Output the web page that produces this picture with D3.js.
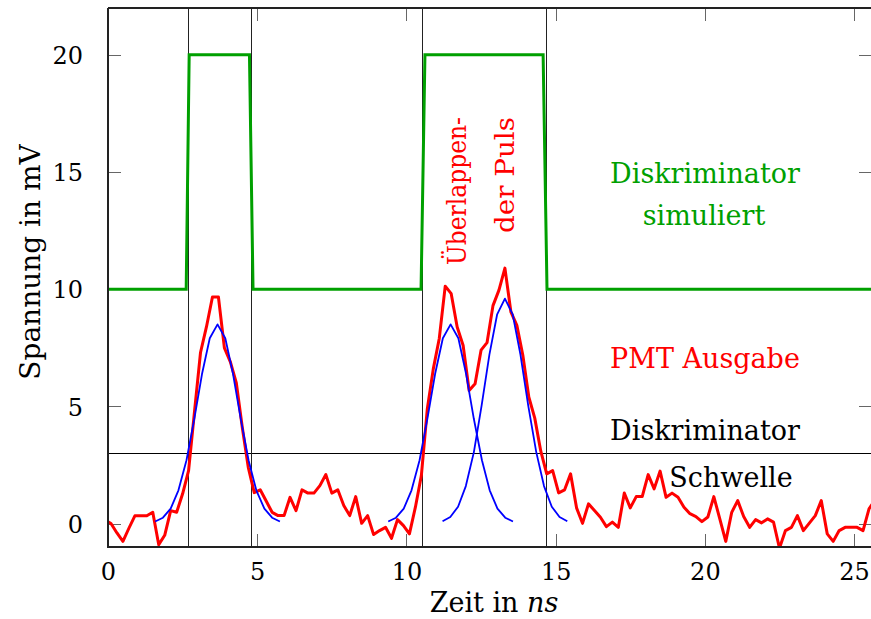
<!DOCTYPE html>
<html>
<head>
<meta charset="utf-8">
<script src="https://cdn.jsdelivr.net/npm/d3@7"></script>
<style>
  html, body { margin: 0; padding: 0; background: #fff; }
  svg { display: block; }
  text { font-family: "DejaVu Serif", serif; }
</style>
</head>
<body>
<svg id="chart" width="871" height="619"></svg>
<script>
// PMT output sampled every 0.2 ns (mV)
const pmtTime = [-0.1, 0.1, 0.3, 0.5, 0.7, 0.9, 1.1, 1.3, 1.5, 1.7, 1.9, 2.1, 2.3, 2.5, 2.7, 2.9, 3.1, 3.3, 3.5, 3.7,
  3.9, 4.1, 4.3, 4.5, 4.7, 4.9, 5.1, 5.3, 5.5, 5.7, 5.9, 6.1, 6.3, 6.5, 6.7, 6.9, 7.1, 7.3, 7.5, 7.7,
  7.9, 8.1, 8.3, 8.5, 8.7, 8.9, 9.1, 9.3, 9.5, 9.7, 9.9, 10.1, 10.3, 10.5, 10.7, 10.9, 11.1, 11.3, 11.5, 11.7,
  11.9, 12.1, 12.3, 12.5, 12.7, 12.9, 13.1, 13.3, 13.5, 13.7, 13.9, 14.1, 14.3, 14.5, 14.7, 14.9, 15.1, 15.3, 15.5, 15.7,
  15.9, 16.1, 16.3, 16.5, 16.7, 16.9, 17.1, 17.3, 17.5, 17.7, 17.9, 18.1, 18.3, 18.5, 18.7, 18.9, 19.1, 19.3, 19.5, 19.7,
  19.9, 20.1, 20.3, 20.5, 20.7, 20.9, 21.1, 21.3, 21.5, 21.7, 21.9, 22.1, 22.3, 22.5, 22.7, 22.9, 23.1, 23.3, 23.5, 23.7,
  23.9, 24.1, 24.3, 24.5, 24.7, 24.9, 25.1, 25.3, 25.5, 25.7];
const pmtVolt = [0.15, 0.0, -0.4, -0.76, -0.2, 0.33, 0.33, 0.33, 0.48, -0.9, -0.5, 0.55, 0.48, 1.27, 2.26, 4.8, 7.3, 8.4, 9.67, 9.67,
  7.5, 6.9, 6.0, 4.1, 2.4, 1.32, 1.44, 0.96, 0.48, 0.34, 0.34, 1.12, 0.55, 1.44, 1.3, 1.3, 1.62, 2.09, 1.3, 1.44,
  0.77, 0.34, 1.15, 0.01, 0.34, -0.47, -0.3, -0.16, -0.63, 0.17, -0.09, -0.44, 0.7, 2.05, 4.9, 6.6, 7.9, 10.13, 9.81, 8.39,
  7.6, 5.68, 5.97, 7.4, 7.72, 9.3, 9.96, 10.9, 9.03, 8.46, 7.18, 5.4, 4.5, 3.1, 2.12, 2.26, 1.31, 1.44, 2.12, 0.67,
  0.01, 0.84, 0.56, 0.27, -0.13, 0.06, -0.16, 1.3, 0.67, 1.15, 1.15, 2.09, 1.48, 2.24, 1.12, 1.3, 1.12, 0.7, 0.42, 0.3,
  0.08, 0.28, 1.15, 0.2, -0.76, 0.48, 0.98, 0.3, -0.16, 0.17, 0.03, 0.2, 0.06, -1.05, -0.3, -0.16, 0.34, -0.3, 0.02, 0.34,
  0.98, -0.44, -0.76, -0.3, -0.16, -0.16, -0.16, -0.3, 0.63, 1.0];

// Single photon pulses (blue)
const pulse1Time = [1.58, 1.84, 2.10, 2.36, 2.63, 2.89, 3.15, 3.41, 3.67, 3.93, 4.19, 4.45, 4.71, 4.97, 5.24, 5.50, 5.76];
const pulse1Volt = [0.09, 0.25, 0.64, 1.42, 2.70, 4.46, 6.38, 7.91, 8.5, 7.91, 6.38, 4.46, 2.70, 1.42, 0.64, 0.25, 0.09];
const pulse2Time = [9.39, 9.65, 9.91, 10.17, 10.44, 10.70, 10.96, 11.22, 11.48, 11.74, 12.00, 12.26, 12.53, 12.79, 13.05, 13.31, 13.57];
const pulse2Volt = [0.09, 0.25, 0.64, 1.42, 2.70, 4.46, 6.38, 7.91, 8.5, 7.91, 6.38, 4.46, 2.70, 1.42, 0.64, 0.25, 0.09];
const pulse3Time = [11.21, 11.47, 11.73, 11.99, 12.26, 12.52, 12.78, 13.04, 13.30, 13.56, 13.82, 14.08, 14.35, 14.61, 14.87, 15.13, 15.39];
const pulse3Volt = [0.10, 0.28, 0.72, 1.60, 3.05, 5.04, 7.21, 8.93, 9.6, 8.93, 7.21, 5.04, 3.05, 1.60, 0.72, 0.28, 0.10];

// Simulated discriminator output
const discTime = [0, 2.62, 2.72, 4.74, 4.86, 10.49, 10.62, 14.58, 14.71, 25.7];
const discVolt = [10, 10, 20, 20, 10, 10, 20, 20, 10, 10];

// Threshold level and threshold crossings
const threshold = 3;
const crossings = [2.67, 4.78, 10.51, 14.67];

const xTicks = [0, 5, 10, 15, 20, 25];
const yTicks = [0, 5, 10, 15, 20];

const svg = d3.select("#chart");
const m = { left: 108, top: 8, right: 872, bottom: 547 };

const x = d3.scaleLinear().domain([0, 25.6]).range([m.left, m.right]);
const y = d3.scaleLinear().domain([-1, 22]).range([m.bottom, m.top]);

svg.append("defs").append("clipPath").attr("id", "plotClip")
  .append("rect")
  .attr("x", m.left).attr("y", m.top)
  .attr("width", m.right - m.left).attr("height", m.bottom - m.top);

const zip = (t, v) => t.map((d, i) => [d, v[i]]);
const line = d3.line().x(d => x(d[0])).y(d => y(d[1]));

// Ticks pointing inward on all four sides
const tickLen = 13;
const tickColor = "#666";
const axB = d3.axisBottom(x).tickValues(xTicks).tickSize(0).tickFormat(d3.format("d"));
const axL = d3.axisLeft(y).tickValues(yTicks).tickSize(0).tickFormat(d3.format("d"));

const gx = svg.append("g").attr("transform", `translate(0,${m.bottom})`).call(axB);
gx.select(".domain").remove();
gx.selectAll("text").attr("y", 33).attr("dy", 0).attr("font-size", 24).attr("fill", "#000")
  .attr("font-family", "DejaVu Serif");

const gy = svg.append("g").attr("transform", `translate(${m.left},0)`).call(axL);
gy.select(".domain").remove();
gy.selectAll("text").attr("x", -25).attr("dy", "0.36em").attr("font-size", 24).attr("fill", "#000")
  .attr("font-family", "DejaVu Serif");

const tickG = svg.append("g").attr("stroke", tickColor).attr("stroke-width", 1);
xTicks.forEach(t => {
  const px = Math.round(x(t)) + 0.5;
  tickG.append("line").attr("x1", px).attr("x2", px).attr("y1", m.bottom).attr("y2", m.bottom - tickLen);
  tickG.append("line").attr("x1", px).attr("x2", px).attr("y1", m.top).attr("y2", m.top + tickLen);
});
yTicks.forEach(t => {
  const py = Math.round(y(t)) + 0.5;
  tickG.append("line").attr("x1", m.left).attr("x2", m.left + tickLen).attr("y1", py).attr("y2", py);
  tickG.append("line").attr("x1", m.right).attr("x2", m.right - tickLen).attr("y1", py).attr("y2", py);
});

const plot = svg.append("g").attr("clip-path", "url(#plotClip)");

// threshold line and crossing markers
plot.append("line")
  .attr("x1", m.left).attr("x2", m.right)
  .attr("y1", Math.round(y(threshold)) + 0.5).attr("y2", Math.round(y(threshold)) + 0.5)
  .attr("stroke", "#000").attr("stroke-width", 1);
crossings.forEach(c => {
  const px = Math.round(x(c)) + 0.5;
  plot.append("line").attr("x1", px).attr("x2", px).attr("y1", m.top).attr("y2", m.bottom)
    .attr("stroke", "#222").attr("stroke-width", 1);
});

// discriminator (green)
plot.append("path").datum(zip(discTime, discVolt)).attr("d", line)
  .attr("fill", "none").attr("stroke", "#00a000").attr("stroke-width", 3).attr("stroke-linejoin", "miter");

// PMT output (red)
plot.append("path").datum(zip(pmtTime, pmtVolt)).attr("d", line)
  .attr("fill", "none").attr("stroke", "#ff0000").attr("stroke-width", 3).attr("stroke-linejoin", "round");

// single pulses (blue)
[[pulse1Time, pulse1Volt], [pulse2Time, pulse2Volt], [pulse3Time, pulse3Volt]].forEach(([t, v]) => {
  plot.append("path").datum(zip(t, v)).attr("d", line)
    .attr("fill", "none").attr("stroke", "#0000ff").attr("stroke-width", 1.8).attr("stroke-linejoin", "round");
});

// frame
svg.append("path")
  .attr("d", `M${m.left},${m.top}H${m.right}M${m.left},${m.top}V${m.bottom}H${m.right}`)
  .attr("fill", "none").attr("stroke", "#222").attr("stroke-width", 2);

// axis titles
svg.append("text").attr("x", 494).attr("y", 612).attr("text-anchor", "middle").attr("font-size", 27)
  .text("Zeit in ").append("tspan").attr("font-style", "italic").text("ns");
svg.append("text").attr("transform", "translate(40,262) rotate(-90)").attr("text-anchor", "middle")
  .attr("font-size", 28).text("Spannung in mV");

// annotations
const note = (tx, ty, str, color) => svg.append("text").attr("x", tx).attr("y", ty)
  .attr("text-anchor", "middle").attr("font-size", 27).attr("fill", color).text(str);
note(705, 183, "Diskriminator", "#00a000");
note(704, 225, "simuliert", "#00a000");
note(705, 368, "PMT Ausgabe", "#ff0000");
note(705, 440, "Diskriminator", "#000");
note(731, 487, "Schwelle", "#000");

svg.append("text").attr("transform", "translate(466,117) rotate(-90)").attr("text-anchor", "end")
  .attr("font-size", 26).attr("textLength", 148).attr("lengthAdjust", "spacingAndGlyphs")
  .attr("fill", "#ff0000").text("Überlappen-");
svg.append("text").attr("transform", "translate(514,117) rotate(-90)").attr("text-anchor", "end")
  .attr("font-size", 26).attr("textLength", 116).attr("lengthAdjust", "spacingAndGlyphs")
  .attr("fill", "#ff0000").text("der Puls");
</script>
</body>
</html>
